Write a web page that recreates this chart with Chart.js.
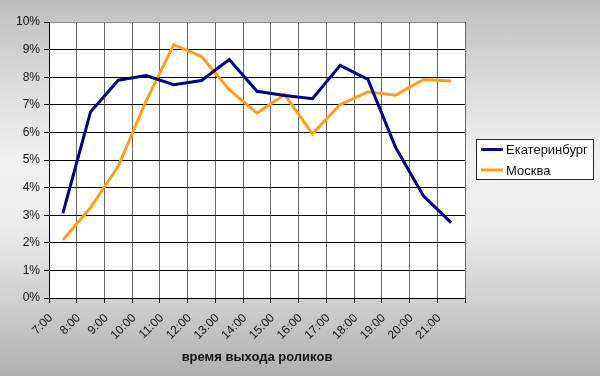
<!DOCTYPE html>
<html>
<head>
<meta charset="utf-8">
<script src="https://cdn.jsdelivr.net/npm/chart.js@4"></script>
<style>
  html, body { margin: 0; padding: 0; }
  body {
    width: 600px;
    height: 376px;
    overflow: hidden;
    background: linear-gradient(to bottom, #bdbdbd 0%, #d6d6d6 18%, #f1f1f1 42%, #ececec 60%, #cfcfcf 80%, #b0b0b0 100%);
  }
  canvas { display: block; }
</style>
</head>
<body>
<canvas id="chart" width="600" height="376"></canvas>
<script>
// data (percent)
const hours = ['7:00', '8:00', '9:00', '10:00', '11:00', '12:00', '13:00', '14:00',
               '15:00', '16:00', '17:00', '18:00', '19:00', '20:00', '21:00'];
const ekaterinburg = [3.07, 6.75, 7.89, 8.06, 7.73, 7.88, 8.64, 7.49, 7.34, 7.22, 8.43, 7.92, 5.45, 3.70, 2.73];
const moscow = [2.10, 3.28, 4.78, 7.13, 9.18, 8.75, 7.55, 6.70, 7.37, 5.95, 7.01, 7.47, 7.35, 7.92, 7.86];
const yMin = 0;
const yMax = 10;
const yStep = 1;
const xTitle = 'время выхода роликов';

Chart.defaults.font.family = '"Liberation Sans", Arial, sans-serif';
Chart.defaults.font.size = 12;
Chart.defaults.color = '#111';

// white plot area
const plotBackground = {
    id: 'plotBackground',
    beforeDraw(chart) {
        const { ctx, chartArea: a } = chart;
        ctx.save();
        ctx.fillStyle = '#fff';
        ctx.fillRect(a.left, a.top, a.right - a.left, a.bottom - a.top);
        ctx.restore();
    }
};

// Excel-like boxed legend on the right
const boxedLegend = {
    id: 'boxedLegend',
    afterDraw(chart) {
        const ctx = chart.ctx;
        const x = 476, y = 139, w = 118, h = 41;
        ctx.save();
        ctx.fillStyle = '#fff';
        ctx.fillRect(x, y, w, h);
        ctx.strokeStyle = '#222';
        ctx.lineWidth = 1;
        ctx.strokeRect(x + 0.5, y + 0.5, w - 1, h - 1);
        ctx.font = '13px "Liberation Sans", Arial, sans-serif';
        ctx.textBaseline = 'middle';
        chart.data.datasets.forEach((ds, i) => {
            const cy = y + 10.5 + i * 20.5;
            ctx.strokeStyle = ds.borderColor;
            ctx.lineWidth = 3;
            ctx.beginPath();
            ctx.moveTo(x + 5, cy);
            ctx.lineTo(x + 27, cy);
            ctx.stroke();
            ctx.fillStyle = '#111';
            ctx.fillText(ds.label, x + 30, cy + 1);
        });
        ctx.restore();
    }
};

const ctx = document.getElementById('chart').getContext('2d');
new Chart(ctx, {
    type: 'line',
    data: {
        labels: hours,
        datasets: [{
            label: 'Екатеринбург',
            data: ekaterinburg,
            borderColor: '#000080',
            borderWidth: 3,
            pointRadius: 0,
            tension: 0
        }, {
            label: 'Москва',
            data: moscow,
            borderColor: '#ff9f1c',
            borderWidth: 3,
            pointRadius: 0,
            tension: 0
        }]
    },
    options: {
        responsive: false,
        animation: false,
        layout: {
            padding: { left: 15, right: 135, top: 22, bottom: 0 }
        },
        plugins: {
            legend: { display: false },
            tooltip: { enabled: false }
        },
        scales: {
            x: {
                offset: true,
                afterFit: s => { s.height = 78; },
                grid: {
                    offset: true,
                    color: '#6a6a6a',
                    tickColor: '#000',
                    tickLength: 5
                },
                border: { color: '#000', width: 1 },
                ticks: {
                    autoSkip: false,
                    minRotation: 45,
                    maxRotation: 45,
                    labelOffset: -12,
                    padding: 8,
                    color: '#111'
                },
                title: {
                    display: true,
                    text: xTitle,
                    font: { size: 13, weight: 'bold' },
                    color: '#111',
                    padding: { top: 0, bottom: 11 }
                }
            },
            y: {
                min: yMin,
                max: yMax,
                afterFit: s => { s.width = 34; },
                grid: {
                    color: ctx => ctx.tick && ctx.tick.value === yMax ? '#8a8a8a' : '#000',
                    tickColor: '#000',
                    tickLength: 5
                },
                border: { color: '#000', width: 1 },
                ticks: {
                    stepSize: yStep,
                    padding: 4,
                    color: '#111',
                    callback: v => v + '%'
                }
            }
        }
    },
    plugins: [plotBackground, boxedLegend]
});
</script>
</body>
</html>
